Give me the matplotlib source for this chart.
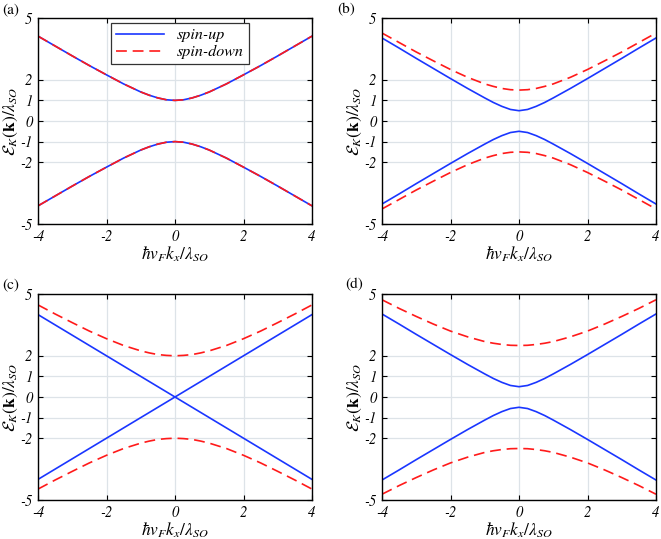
import numpy as np
import matplotlib
matplotlib.use('Agg')
import matplotlib.pyplot as plt

plt.rcParams['mathtext.fontset'] = 'stix'
plt.rcParams['font.family'] = 'STIXGeneral'

# x values (hbar v_F k_x / lambda_SO)
kx = [-4, -3.5, -3, -2.5, -2, -1.5, -1, -0.75, -0.5, -0.25, 0,
      0.25, 0.5, 0.75, 1, 1.5, 2, 2.5, 3, 3.5, 4]

# upper conduction band (valence band is the mirror image)
up_a = [4.12, 3.64, 3.16, 2.69, 2.24, 1.80, 1.41, 1.25, 1.12, 1.03, 1.00,
        1.03, 1.12, 1.25, 1.41, 1.80, 2.24, 2.69, 3.16, 3.64, 4.12]
dn_a = [4.12, 3.64, 3.16, 2.69, 2.24, 1.80, 1.41, 1.25, 1.12, 1.03, 1.00,
        1.03, 1.12, 1.25, 1.41, 1.80, 2.24, 2.69, 3.16, 3.64, 4.12]
up_b = [4.03, 3.54, 3.04, 2.55, 2.06, 1.58, 1.12, 0.90, 0.71, 0.56, 0.50,
        0.56, 0.71, 0.90, 1.12, 1.58, 2.06, 2.55, 3.04, 3.54, 4.03]
dn_b = [4.27, 3.81, 3.35, 2.92, 2.50, 2.12, 1.80, 1.68, 1.58, 1.52, 1.50,
        1.52, 1.58, 1.68, 1.80, 2.12, 2.50, 2.92, 3.35, 3.81, 4.27]
up_c = [4.00, 3.50, 3.00, 2.50, 2.00, 1.50, 1.00, 0.75, 0.50, 0.25, 0.00,
        0.25, 0.50, 0.75, 1.00, 1.50, 2.00, 2.50, 3.00, 3.50, 4.00]
dn_c = [4.47, 4.03, 3.61, 3.20, 2.83, 2.50, 2.24, 2.14, 2.06, 2.02, 2.00,
        2.02, 2.06, 2.14, 2.24, 2.50, 2.83, 3.20, 3.61, 4.03, 4.47]
up_d = [4.03, 3.54, 3.04, 2.55, 2.06, 1.58, 1.12, 0.90, 0.71, 0.56, 0.50,
        0.56, 0.71, 0.90, 1.12, 1.58, 2.06, 2.55, 3.04, 3.54, 4.03]
dn_d = [4.72, 4.30, 3.91, 3.54, 3.20, 2.92, 2.69, 2.61, 2.55, 2.51, 2.50,
        2.51, 2.55, 2.61, 2.69, 2.92, 3.20, 3.54, 3.91, 4.30, 4.72]

panels = [('(a)', up_a, dn_a), ('(b)', up_b, dn_b),
          ('(c)', up_c, dn_c), ('(d)', up_d, dn_d)]

xticks = [-4, -2, 0, 2, 4]
yticks = [-5, -2, -1, 0, 1, 2, 5]
ytick_labels = ['-5', '-2', '-1', '0', '1', '2', '5']

W, H = 661, 539
fig = plt.figure(figsize=(W / 100, H / 100), dpi=100)
boxes = [(38, 18, 312, 224), (382, 18, 656, 224),
         (38, 294, 312, 500), (382, 294, 656, 500)]
label_pos = [(2, 10), (337, 10), (2, 285), (345, 285)]
dash = (0, (6.5, 3.5))

for (name, up, dn), (x0, y0, x1, y1), (lx, ly) in zip(panels, boxes, label_pos):
    ax = fig.add_axes([x0 / W, 1 - y1 / H, (x1 - x0) / W, (y1 - y0) / H])
    ax.plot(kx, up, color='#1a36ff', lw=1.2, label='spin-up')
    ax.plot(kx, dn, color='#ff1a1a', lw=1.2, ls=dash, label='spin-down')
    ax.plot(kx, -np.array(up), color='#1a36ff', lw=1.2)
    ax.plot(kx, -np.array(dn), color='#ff1a1a', lw=1.2, ls=dash)
    ax.set_xlim(-4, 4)
    ax.set_ylim(-5, 5)
    ax.set_xticks(xticks)
    ax.set_xticklabels([str(t) for t in xticks], fontstyle='italic', fontsize=10.5)
    ax.set_yticks(yticks)
    ax.set_yticklabels(ytick_labels, fontstyle='italic', fontsize=10.5)
    ax.tick_params(direction='in', length=3.5, width=0.8, top=True, right=True, pad=4)
    ax.grid(True, color='#dde3e8', lw=0.9)
    for s in ax.spines.values():
        s.set_linewidth(1.0)
    ax.set_xlabel(r'$\hbar v_F k_x/\lambda_{SO}$', fontsize=12.5)
    ax.xaxis.set_label_coords(0.5, -0.10)
    ax.set_ylabel(r'$\mathcal{E}_K(\mathbf{k})/\lambda_{SO}$', fontsize=12.5)
    ax.yaxis.set_label_coords(-0.066, 0.5)
    fig.text(lx / W, 1 - ly / H, name, fontsize=11, va='center', ha='left')
    if name == '(a)':
        leg = ax.legend(loc='upper left', bbox_to_anchor=(0.268, 0.975),
                        prop={'style': 'italic', 'size': 11.5}, fancybox=False,
                        framealpha=1, edgecolor='#333333', handlelength=3.0,
                        borderpad=0.3, labelspacing=0.2, borderaxespad=0)
        leg.get_frame().set_linewidth(0.9)

fig.savefig('out.png', dpi=100)
